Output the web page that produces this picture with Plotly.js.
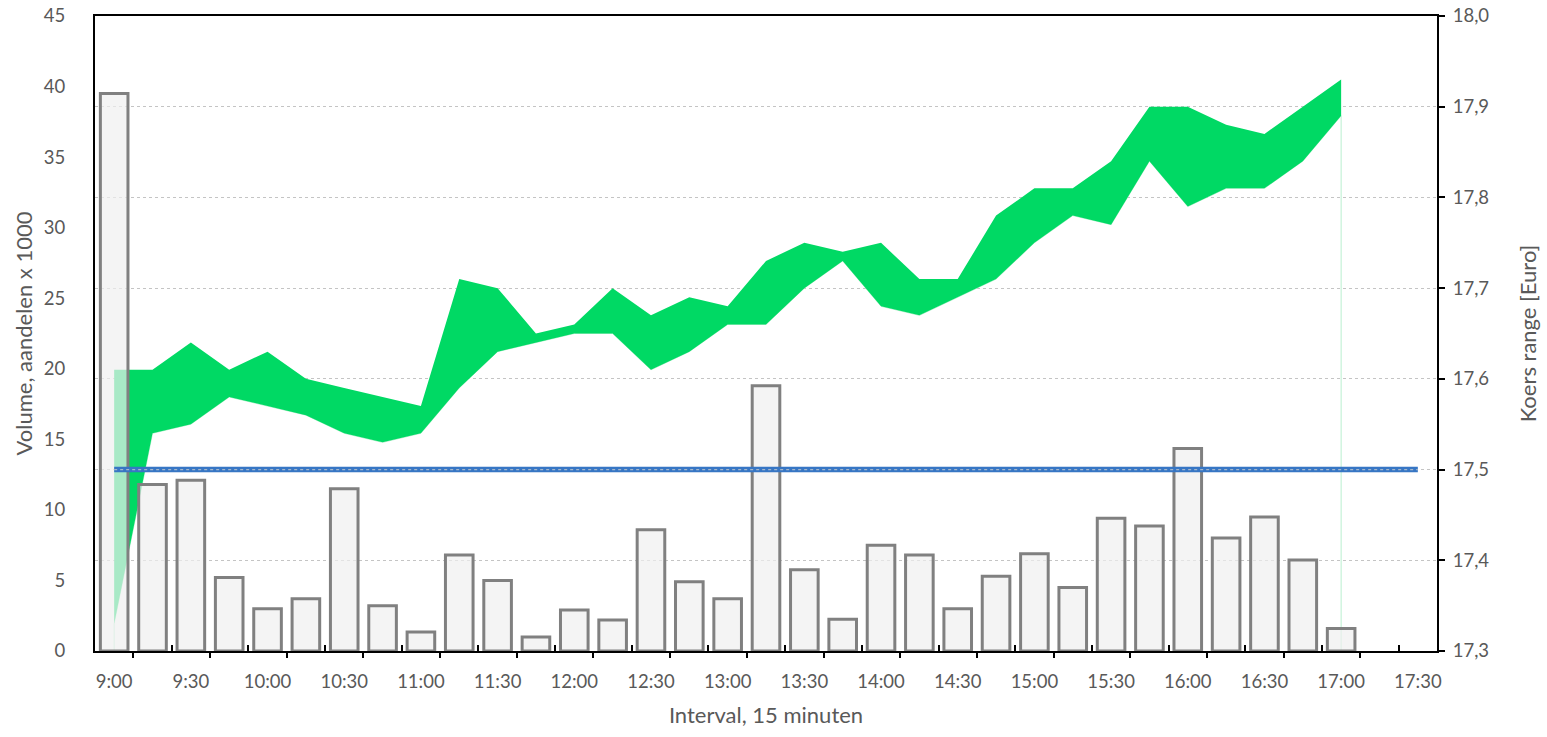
<!DOCTYPE html>
<html><head><meta charset="utf-8">
<script src="https://cdn.plot.ly/plotly-3.0.1.min.js"></script>
<style>html,body{margin:0;padding:0;background:#fff;} #chart{width:1547px;height:737px;}</style>
</head><body><div id="chart"></div>
<script>
// ---- data ----
const categories = ["9:00","9:15","9:30","9:45","10:00","10:15","10:30","10:45","11:00","11:15","11:30","11:45",
  "12:00","12:15","12:30","12:45","13:00","13:15","13:30","13:45","14:00","14:15","14:30","14:45",
  "15:00","15:15","15:30","15:45","16:00","16:15","16:30","16:45","17:00","17:15","17:30"];
const tickLabels = ["9:00","9:30","10:00","10:30","11:00","11:30","12:00","12:30","13:00","13:30",
  "14:00","14:30","15:00","15:30","16:00","16:30","17:00","17:30"];
const volume = [39.5,11.8,12.1,5.2,3.0,3.7,11.5,3.2,1.35,6.8,5.0,1.0,
  2.9,2.2,8.6,4.9,3.7,18.8,5.75,2.25,7.5,6.8,3.0,5.3,
  6.9,4.5,9.4,8.85,14.35,8.0,9.5,6.45,1.6];
const priceHigh = [17.61,17.61,17.64,17.61,17.63,17.60,17.59,17.58,17.57,17.71,17.70,17.65,
  17.66,17.70,17.67,17.69,17.68,17.73,17.75,17.74,17.75,17.71,17.71,17.78,
  17.81,17.81,17.84,17.90,17.90,17.88,17.87,17.90,17.93];
const priceLow = [17.33,17.54,17.55,17.58,17.57,17.56,17.54,17.53,17.54,17.59,17.63,17.64,
  17.65,17.65,17.61,17.63,17.66,17.66,17.70,17.73,17.68,17.67,17.69,17.71,
  17.75,17.78,17.77,17.84,17.79,17.81,17.81,17.84,17.89];
const referencePrice = [17.5,17.5,17.5,17.5,17.5,17.5,17.5,17.5,17.5,17.5,17.5,17.5,
  17.5,17.5,17.5,17.5,17.5,17.5,17.5,17.5,17.5,17.5,17.5,17.5,
  17.5,17.5,17.5,17.5,17.5,17.5,17.5,17.5,17.5,17.5,17.5];
const volumeRange = [0, 45];
const priceRange = [17.3, 18.0];

// ---- derived ----
const idx = categories.map((_, i) => i);
const priceIdx = priceHigh.map((_, i) => i);
const volIdx = volume.map((_, i) => i);
const tickVals = tickLabels.map(t => categories.indexOf(t));
const n = categories.length;
const majorTicks = [], minorTicks = [];
for (let i = 0; i < n - 1; i++) { (i % 2 === 0 ? majorTicks : minorTicks).push(i + 0.5); }
const last = priceIdx[priceIdx.length - 1];

const FONT = 'Lato, "Open Sans", sans-serif';
const TXT = '#595959';
const TICK = 18.5, TITLE = 22;

const traces = [
  { // outline of the low series (thin light green edge)
    x: [0].concat(priceIdx, [last]), y: [priceRange[0]].concat(priceLow, [priceRange[0]]),
    xaxis: 'x', yaxis: 'y2', type: 'scatter', mode: 'lines',
    line: { color: '#b9efcf', width: 1 }, hoverinfo: 'skip'
  },
  {
    x: priceIdx, y: priceLow, xaxis: 'x', yaxis: 'y2', type: 'scatter', mode: 'lines',
    line: { width: 0, color: 'rgba(0,0,0,0)' }, hoverinfo: 'skip'
  },
  {
    x: priceIdx, y: priceHigh, xaxis: 'x', yaxis: 'y2', type: 'scatter', mode: 'lines',
    line: { width: 0, color: 'rgba(0,0,0,0)' }, fill: 'tonexty', fillcolor: '#00d964'
  },
  {
    x: volIdx, y: volume, xaxis: 'x', yaxis: 'y', type: 'bar', width: 0.72,
    marker: { color: 'rgba(240,240,240,0.7)', line: { color: '#808080', width: 3 } }
  },
  {
    x: idx, y: referencePrice, xaxis: 'x2', yaxis: 'y3', type: 'scatter', mode: 'lines',
    line: { color: '#3776c4', width: 5.5 }
  },
  {
    x: idx, y: referencePrice, xaxis: 'x2', yaxis: 'y3', type: 'scatter', mode: 'lines',
    line: { color: 'rgba(175,190,205,0.9)', width: 1.2, dash: 'dot' }
  }
];

const layout = {
  width: 1547, height: 737,
  margin: { l: 95, r: 110, t: 16, b: 86 },
  paper_bgcolor: '#ffffff', plot_bgcolor: 'rgba(0,0,0,0)',
  separators: ',.', showlegend: false,
  font: { family: FONT, size: TICK, color: TXT },
  xaxis: {
    range: [-0.5, n - 0.5], tickmode: 'array', tickvals: tickVals, ticktext: tickLabels,
    ticks: '', ticklabelstandoff: 13, showline: true, linecolor: '#000', linewidth: 2, mirror: true,
    showgrid: false, zeroline: false, anchor: 'y',
    tickfont: { family: FONT, size: TICK, color: TXT },
    title: { text: 'Interval, 15 minuten', font: { family: FONT, size: TITLE, color: TXT }, standoff: 16 }
  },
  xaxis2: {
    overlaying: 'x', anchor: 'y3', side: 'bottom', range: [-0.5, n - 0.5],
    tickmode: 'array', tickvals: majorTicks, ticks: 'outside', ticklen: 6, tickwidth: 2, tickcolor: '#000',
    showticklabels: false, showline: false, showgrid: false, zeroline: false,
    minor: { tickmode: 'array', tickvals: minorTicks, ticks: 'inside', ticklen: 6, tickwidth: 2, tickcolor: '#000', showgrid: false }
  },
  yaxis2: {
    side: 'right', anchor: 'x', range: priceRange, tickmode: 'linear', tick0: 17.3, dtick: 0.1, tickformat: '.1f',
    ticks: 'outside', ticklen: 6, tickwidth: 2, tickcolor: '#000', ticklabelstandoff: 4,
    showline: true, linecolor: '#000', linewidth: 2,
    showgrid: true, gridcolor: '#c4c4c4', griddash: 'dot', gridwidth: 1, zeroline: false,
    tickfont: { family: FONT, size: TICK, color: TXT },
    title: { text: 'Koers range [Euro]', font: { family: FONT, size: TITLE, color: TXT }, standoff: 32 }
  },
  yaxis: {
    overlaying: 'y2', side: 'left', anchor: 'x', range: volumeRange, tickmode: 'linear', tick0: 0, dtick: 5,
    ticks: '', ticklabelstandoff: 24, showline: true, linecolor: '#000', linewidth: 2,
    showgrid: false, zeroline: false,
    tickfont: { family: FONT, size: TICK, color: TXT },
    title: { text: 'Volume, aandelen x 1000', font: { family: FONT, size: TITLE, color: TXT }, standoff: 5 }
  },
  yaxis3: { overlaying: 'y2', anchor: 'x2', range: priceRange, visible: false }
};

Plotly.newPlot('chart', traces, layout, { displayModeBar: false, staticPlot: true });
</script>
</body></html>
